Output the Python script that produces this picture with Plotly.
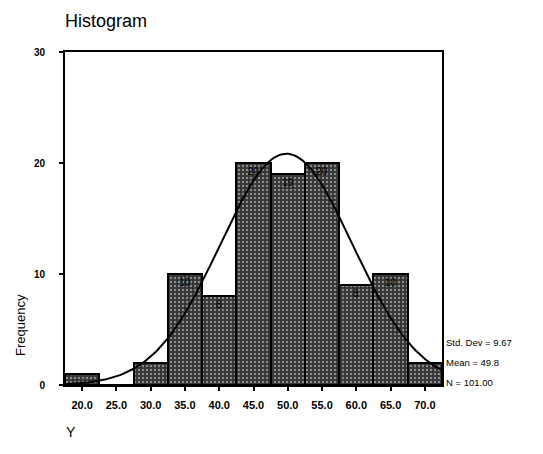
import numpy as np
import plotly.graph_objects as go

# Data
bin_centers = [20, 25, 30, 35, 40, 45, 50, 55, 60, 65, 70]
tick_labels = ["20.0", "25.0", "30.0", "35.0", "40.0", "45.0", "50.0", "55.0", "60.0", "65.0", "70.0"]
frequencies = [1, 0, 2, 10, 8, 20, 19, 20, 9, 10, 2]
bar_labels = ["", "", "", "10", "8", "20", "19", "20", "8", "10", ""]
y_ticks = [0, 10, 20, 30]
std_dev = 9.67
mean_val = 49.8
n_total = 101
bin_width = 5

fig = go.Figure()

fig.add_trace(go.Bar(
    x=bin_centers, y=frequencies, width=bin_width,
    marker=dict(color="#555555", line=dict(color="black", width=2),
                pattern=dict(shape=".", fgcolor="#dddddd", bgcolor="#333333", size=4, solidity=0.3)),
    text=bar_labels, textposition="inside", insidetextanchor="end",
    textfont=dict(family="Arial, Liberation Sans", size=10, color="black"),
    hoverinfo="skip", showlegend=False,
))

# Normal curve from the displayed mean / std. dev.
xs = np.linspace(17.5, 72.5, 200)
ys = n_total * bin_width * np.exp(-0.5 * ((xs - mean_val) / std_dev) ** 2) / (std_dev * np.sqrt(2 * np.pi))
fig.add_trace(go.Scatter(x=xs, y=ys, mode="lines", line=dict(color="black", width=2),
                         hoverinfo="skip", showlegend=False))

fnt = "Arial, Liberation Sans, sans-serif"
fig.update_layout(
    width=543, height=454,
    margin=dict(l=65, r=101, t=52, b=69),
    paper_bgcolor="white", plot_bgcolor="white",
    bargap=0,
    font=dict(family=fnt, color="black"),
    xaxis=dict(range=[17.5, 72.5], tickmode="array", tickvals=bin_centers,
               ticktext=["<b>" + t + "</b>" for t in tick_labels],
               ticks="outside", ticklen=4, tickwidth=2, tickcolor="black", ticklabelstandoff=5,
               showline=True, linecolor="black", linewidth=2, mirror=True,
               showgrid=False, zeroline=False, tickfont=dict(size=11, family=fnt)),
    yaxis=dict(range=[0, 30], tickmode="array", tickvals=y_ticks,
               ticktext=["<b>" + str(t) + "</b>" for t in y_ticks],
               ticks="outside", ticklen=4, tickwidth=2, tickcolor="black", ticklabelstandoff=12,
               showline=True, linecolor="black", linewidth=2, mirror=True,
               showgrid=False, zeroline=False, tickfont=dict(size=10, family=fnt)),
)

anns = [
    dict(text="Histogram", x=63, y=9, size=18),
    dict(text="Std. Dev = 9.67", x=444, y=335, size=9.5),
    dict(text="Mean = 49.8", x=444, y=355, size=9.5),
    dict(text="N = 101.00", x=444, y=375, size=9.5),
    dict(text="Y", x=64, y=422, size=14),
]
for a in anns:
    fig.add_annotation(text=a["text"], x=(a["x"] - 65) / 377, y=1 - (a["y"] - 52) / 333,
                       xref="paper", yref="paper", xanchor="left", yanchor="top",
                       showarrow=False, font=dict(size=a["size"], family=fnt, color="black"))
fig.add_annotation(text="Frequency", x=(20 - 65) / 377, y=1 - (325 - 52) / 333,
                   xref="paper", yref="paper", xanchor="center", yanchor="middle", textangle=-90,
                   showarrow=False, font=dict(size=13, family=fnt, color="black"))

fig.write_html("out.html")
